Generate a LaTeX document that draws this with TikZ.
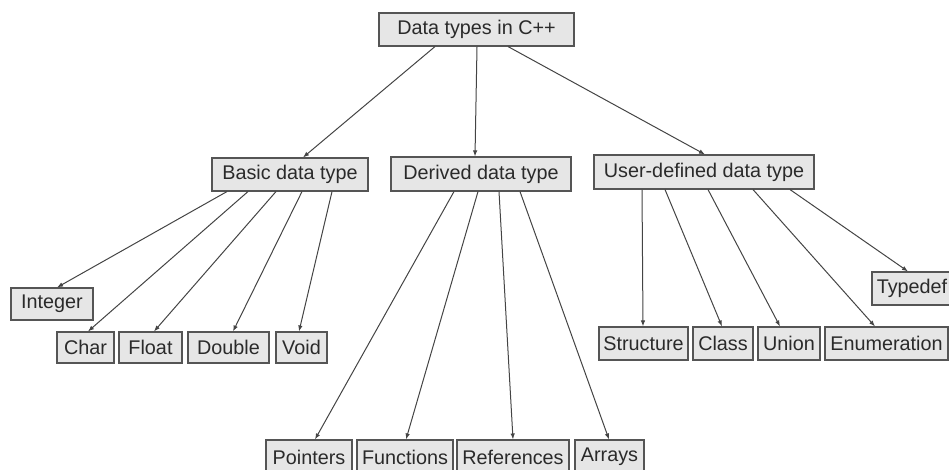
\documentclass[tikz,border=0pt]{standalone}
\usepackage{fontspec}
\setmainfont{Liberation Sans}
\usetikzlibrary{arrows.meta}
\definecolor{boxfill}{HTML}{E6E6E6}
\definecolor{boxline}{HTML}{555555}
\definecolor{linkline}{HTML}{444444}
\definecolor{labeltext}{HTML}{2A2A2A}
\begin{document}
\begin{tikzpicture}[x=1pt,y=-1pt,
  box/.style={draw=boxline, fill=boxfill, line width=1.1pt, inner sep=0pt,
    font=\fontsize{19.8}{22}\selectfont, text=labeltext},
  link/.style={draw=linkline, line width=1pt, -{Latex[length=6pt,width=4.5pt]}}]
\useasboundingbox (0,0) rectangle (949,469);
\clip (0,0) rectangle (949,469);
% root
\node[box, minimum width=195pt, minimum height=33pt] (root) at (476.5,29.5) {Data types in C++};
% categories
\node[box, minimum width=156pt, minimum height=33pt] (basic) at (290,174.5) {Basic data type};
\node[box, minimum width=180pt, minimum height=34pt] (derived) at (481,174) {Derived data type};
\node[box, minimum width=220pt, minimum height=34pt] (user) at (704,172) {User-defined data type};
% basic types
\node[box, minimum width=82pt, minimum height=32pt] (int) at (52,304) {Integer};
\node[box, minimum width=57pt, minimum height=31pt] (char) at (85.5,347.5) {Char};
\node[box, minimum width=63pt, minimum height=31pt] (float) at (150.5,347.5) {Float};
\node[box, minimum width=81pt, minimum height=31pt] (double) at (228.5,347.5) {Double};
\node[box, minimum width=51pt, minimum height=31pt] (void) at (301.5,347.5) {Void};
% derived types
\node[box, minimum width=86pt, minimum height=34pt] (ptr) at (309,457) {Pointers};
\node[box, minimum width=96pt, minimum height=34pt] (func) at (405,457) {Functions};
\node[box, minimum width=112pt, minimum height=34pt] (ref) at (513,457) {References};
\node[box, minimum width=69pt, minimum height=34pt] (arr) at (609.5,457) {Arrays};
% user-defined types
\node[box, minimum width=80pt, minimum height=33pt] (tdef) at (912,288.5) {Typedef};
\node[box, minimum width=89pt, minimum height=33pt] (struct) at (643.5,343.5) {Structure};
\node[box, minimum width=60pt, minimum height=33pt] (class) at (723,343.5) {Class};
\node[box, minimum width=62pt, minimum height=33pt] (union) at (789,343.5) {Union};
\node[box, minimum width=123pt, minimum height=33pt] (enum) at (886.5,343.5) {Enumeration};
% root to categories
\draw[link] ([xshift=-41.5pt]root.south) -- ([xshift=13pt]basic.north);
\draw[link] ([xshift=0.5pt]root.south) -- ([xshift=-6pt]derived.north);
\draw[link] ([xshift=31.5pt]root.south) -- ([xshift=1pt]user.north);
% basic
\draw[link] ([xshift=-63pt]basic.south) -- ([xshift=5pt]int.north);
\draw[link] ([xshift=-42pt]basic.south) -- ([xshift=2.5pt]char.north);
\draw[link] ([xshift=-14pt]basic.south) -- ([xshift=3.5pt]float.north);
\draw[link] ([xshift=12pt]basic.south) -- ([xshift=4.5pt]double.north);
\draw[link] ([xshift=42pt]basic.south) -- ([xshift=-2.5pt]void.north);
% derived
\draw[link] ([xshift=-27pt]derived.south) -- ([xshift=6pt]ptr.north);
\draw[link] ([xshift=-3pt]derived.south) -- ([xshift=1pt]func.north);
\draw[link] ([xshift=18pt]derived.south) -- ([xshift=0pt]ref.north);
\draw[link] ([xshift=39pt]derived.south) -- ([xshift=-0.5pt]arr.north);
% user-defined
\draw[link] ([xshift=-62pt]user.south) -- ([xshift=-0.5pt]struct.north);
\draw[link] ([xshift=-39pt]user.south) -- ([xshift=-1pt]class.north);
\draw[link] ([xshift=4pt]user.south) -- ([xshift=-9pt]union.north);
\draw[link] ([xshift=49pt]user.south) -- ([xshift=-11.5pt]enum.north);
\draw[link] ([xshift=86pt]user.south) -- ([xshift=-4pt]tdef.north);
\end{tikzpicture}
\end{document}
